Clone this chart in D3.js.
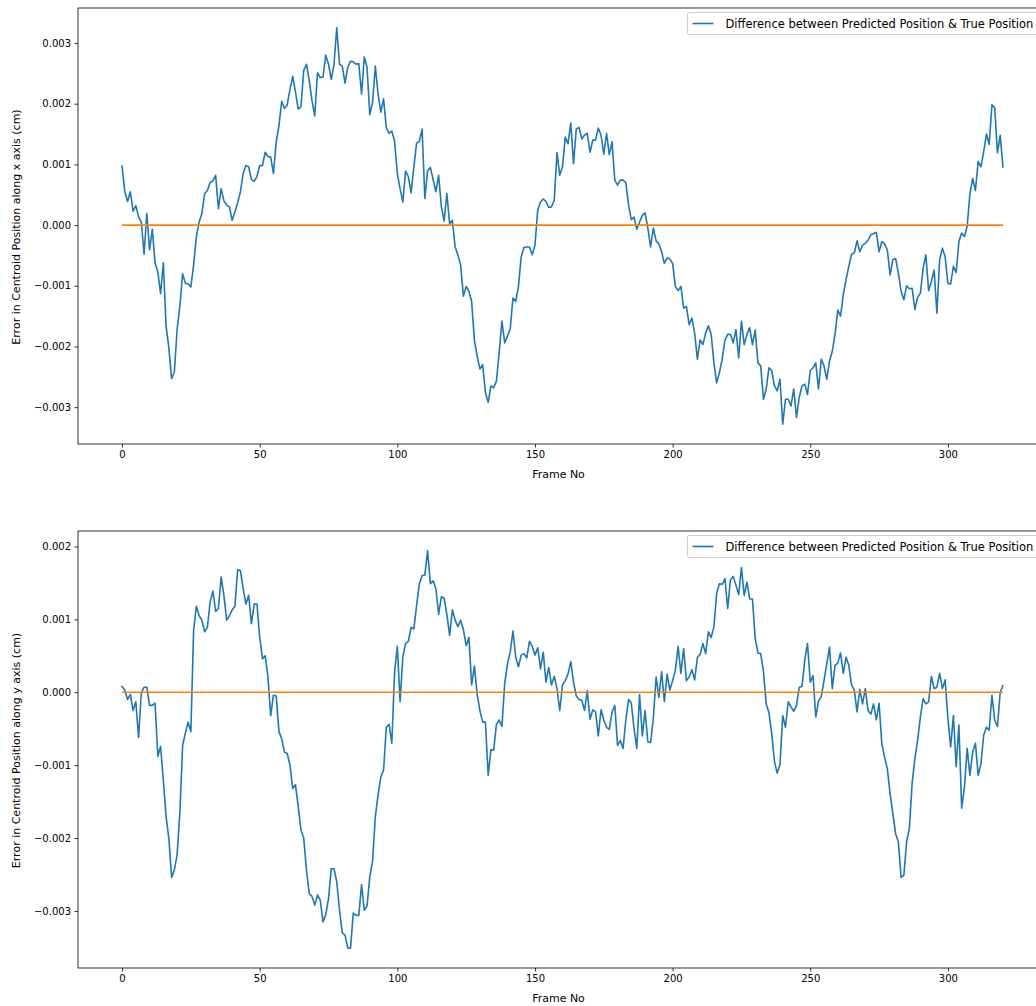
<!DOCTYPE html>
<html>
<head>
<meta charset="utf-8">
<script src="https://cdn.jsdelivr.net/npm/d3@7"></script>
<style>
  html, body { margin: 0; padding: 0; background: #fff; }
  svg { display: block; font-family: "DejaVu Sans", sans-serif; }
</style>
</head>
<body>
<svg id="chart" width="1036" height="1006"></svg>
<script>
// Per-frame centroid error (units of 1e-3 cm), frames 0..320
const errorX = [
  0.97, 0.55, 0.39, 0.55, 0.23, 0.32, 0.14, 0.05, -0.48, 0.19,
  -0.41, -0.07, -0.63, -0.77, -1.13, -0.62, -1.67, -2.02, -2.53, -2.42,
  -1.72, -1.34, -0.80, -0.96, -0.97, -1.02, -0.66, -0.19, 0.05, 0.19,
  0.52, 0.57, 0.70, 0.73, 0.82, 0.27, 0.60, 0.40, 0.33, 0.30,
  0.08, 0.22, 0.37, 0.55, 0.85, 0.98, 0.96, 0.75, 0.72, 0.80,
  0.98, 0.98, 1.20, 1.13, 1.12, 0.85, 1.37, 1.64, 2.04, 1.92,
  1.98, 2.24, 2.45, 2.19, 1.91, 1.95, 2.55, 2.65, 2.38, 2.05,
  1.80, 2.51, 2.43, 2.44, 2.80, 2.65, 2.40, 2.65, 3.25, 2.65,
  2.62, 2.34, 2.60, 2.70, 2.69, 2.65, 2.66, 2.16, 2.77, 2.60,
  1.82, 2.02, 2.62, 2.16, 1.86, 2.08, 1.60, 1.51, 1.55, 1.38,
  0.85, 0.60, 0.38, 0.89, 0.80, 0.53, 0.96, 1.35, 1.38, 1.58,
  0.44, 0.90, 0.95, 0.75, 0.55, 0.82, 0.30, 0.07, 0.52, 0.02,
  0.08, -0.36, -0.49, -0.66, -1.17, -1.01, -1.09, -1.26, -1.90, -2.16,
  -2.37, -2.30, -2.76, -2.92, -2.65, -2.68, -2.57, -2.10, -1.58, -1.94,
  -1.83, -1.71, -1.20, -1.26, -1.01, -0.52, -0.37, -0.36, -0.36, -0.49,
  -0.33, 0.25, 0.38, 0.43, 0.39, 0.29, 0.30, 0.41, 1.19, 0.82,
  0.96, 1.45, 1.34, 1.68, 1.01, 1.58, 1.61, 1.42, 1.48, 1.51,
  1.20, 1.40, 1.40, 1.60, 1.48, 1.17, 1.51, 1.16, 1.37, 0.74,
  0.66, 0.74, 0.74, 0.70, 0.33, 0.09, 0.13, -0.07, 0.05, 0.16,
  0.20, -0.05, -0.36, -0.05, -0.26, -0.31, -0.44, -0.63, -0.54, -0.56,
  -0.63, -1.01, -1.08, -1.01, -1.37, -1.34, -1.64, -1.53, -1.78, -2.21,
  -1.89, -1.97, -1.78, -1.66, -1.80, -2.27, -2.60, -2.43, -2.21, -1.90,
  -1.80, -1.80, -1.94, -1.72, -2.19, -1.58, -1.97, -1.80, -1.69, -1.97,
  -1.73, -2.27, -2.32, -2.87, -2.70, -2.35, -2.40, -2.65, -2.73, -2.54,
  -3.28, -2.87, -2.87, -2.98, -2.70, -3.17, -2.84, -2.65, -2.62, -2.79,
  -2.40, -2.35, -2.27, -2.70, -2.21, -2.32, -2.54, -2.24, -2.08, -1.80,
  -1.40, -1.50, -1.15, -0.90, -0.68, -0.48, -0.46, -0.26, -0.44, -0.33,
  -0.30, -0.25, -0.16, -0.14, -0.12, -0.44, -0.27, -0.31, -0.41, -0.82,
  -0.57, -0.55, -0.79, -1.09, -1.23, -1.00, -1.05, -1.04, -1.39, -1.19,
  -1.12, -0.71, -0.49, -1.08, -0.93, -0.74, -1.45, -0.57, -0.38, -0.52,
  -0.96, -0.97, -0.68, -0.78, -0.27, -0.13, -0.19, -0.02, 0.52, 0.77,
  0.57, 1.05, 0.96, 1.21, 1.50, 1.33, 1.98, 1.93, 1.19, 1.48,
  0.96
];

const errorY = [
  0.08, 0.03, -0.10, -0.03, -0.25, -0.13, -0.62, -0.01, 0.07, 0.07,
  -0.18, -0.18, -0.15, -0.88, -0.74, -1.21, -1.71, -2.00, -2.54, -2.44,
  -2.23, -1.66, -0.73, -0.56, -0.41, -0.54, 0.85, 1.18, 1.05, 0.99,
  0.83, 0.89, 1.24, 1.39, 1.11, 1.15, 1.58, 1.33, 0.99, 1.05,
  1.13, 1.18, 1.68, 1.67, 1.42, 1.21, 1.33, 0.94, 1.21, 1.21,
  0.76, 0.46, 0.50, 0.21, -0.32, -0.04, -0.05, -0.54, -0.64, -0.82,
  -0.84, -1.00, -1.32, -1.27, -1.57, -1.89, -2.00, -2.44, -2.76, -2.80,
  -2.92, -2.78, -2.85, -3.15, -3.05, -2.83, -2.42, -2.42, -2.60, -2.99,
  -3.30, -3.33, -3.51, -3.51, -3.03, -3.06, -3.06, -2.64, -2.99, -2.93,
  -2.53, -2.32, -1.71, -1.41, -1.16, -1.07, -0.48, -0.44, -0.70, 0.28,
  0.63, -0.13, 0.49, 0.67, 0.70, 0.89, 0.87, 1.19, 1.49, 1.60,
  1.61, 1.94, 1.49, 1.53, 1.42, 1.07, 1.31, 1.29, 1.07, 0.78,
  1.13, 0.99, 0.90, 0.99, 0.86, 0.64, 0.75, 0.10, 0.36, -0.03,
  -0.25, -0.41, -0.41, -1.14, -0.79, -0.79, -0.44, -0.38, -0.47, 0.12,
  0.39, 0.55, 0.84, 0.48, 0.35, 0.51, 0.53, 0.47, 0.70, 0.63,
  0.51, 0.61, 0.32, 0.55, 0.14, 0.34, 0.10, 0.22, 0.05, -0.25,
  0.10, 0.16, 0.25, 0.42, 0.14, -0.05, -0.10, -0.11, -0.25, 0.02,
  -0.37, -0.24, -0.27, -0.60, -0.24, -0.38, -0.48, -0.51, -0.27, -0.18,
  -0.73, -0.66, -0.77, -0.38, -0.10, -0.15, -0.50, -0.77, -0.03, -0.60,
  -0.25, -0.68, -0.69, -0.36, 0.21, -0.07, 0.28, -0.13, 0.25, 0.03,
  0.16, 0.30, 0.63, 0.26, 0.60, 0.16, 0.21, 0.31, 0.17, 0.48,
  0.52, 0.67, 0.53, 0.83, 0.75, 0.90, 1.36, 1.49, 1.48, 1.56,
  1.15, 1.54, 1.59, 1.47, 1.34, 1.71, 1.33, 1.51, 1.28, 1.28,
  0.74, 0.54, 0.53, 0.28, -0.16, -0.28, -0.57, -0.95, -1.11, -0.99,
  -0.32, -0.48, -0.13, -0.20, -0.26, -0.18, 0.07, 0.08, 0.44, 0.67,
  0.14, 0.23, -0.34, -0.12, -0.06, 0.16, 0.39, 0.62, 0.05, 0.37,
  0.40, 0.54, 0.26, 0.48, 0.37, 0.10, 0.03, -0.27, 0.04, -0.16,
  0.05, -0.25, -0.30, -0.16, -0.38, -0.15, -0.71, -0.89, -1.05, -1.39,
  -1.66, -1.94, -2.05, -2.54, -2.51, -2.05, -1.87, -1.25, -0.91, -0.66,
  -0.34, -0.09, -0.16, -0.13, 0.22, 0.05, 0.07, 0.26, 0.05, 0.17,
  -0.36, -0.75, -0.32, -1.02, -0.45, -1.59, -1.30, -0.77, -1.14, -0.82,
  -0.70, -1.14, -0.98, -0.59, -0.48, -0.52, -0.04, -0.38, -0.47, 0.00,
  0.09
];

const xTicks = [0, 50, 100, 150, 200, 250, 300];
const yTicksTop = [-0.003, -0.002, -0.001, 0.000, 0.001, 0.002, 0.003];
const yTicksBottom = [-0.003, -0.002, -0.001, 0.000, 0.001, 0.002];
const legendLabel = "Difference between Predicted Position & True Position";
const xLabel = "Frame No";
const yLabels = [
  "Error in Centroid Position along x axis (cm)",
  "Error in Centroid Position along y axis (cm)"
];
const baselineValue = 0;

const svg = d3.select("#chart");
const blue = "#1f77b4", orange = "#ff7f0e";
const fmt = v => d3.format(".3f")(v).replace("-", "\u2212");

const panels = [
  { values: errorX.map(v => v * 1e-3), ticks: yTicksTop, label: yLabels[0], top: 8, bottom: 444 },
  { values: errorY.map(v => v * 1e-3), ticks: yTicksBottom, label: yLabels[1], top: 531, bottom: 968 }
];

const left = 78, right = 1047;
const nFrames = errorX.length;
const xMax = nFrames - 1;
const xPad = xMax * 0.05;

const x = d3.scaleLinear().domain([-xPad, xMax + xPad]).range([left, right]);

panels.forEach(p => {
  const [lo, hi] = d3.extent(p.values);
  const pad = (hi - lo) * 0.05;
  const y = d3.scaleLinear().domain([lo - pad, hi + pad]).range([p.bottom, p.top]);
  const g = svg.append("g");

  const clipId = "clip" + p.top;
  svg.append("clipPath").attr("id", clipId)
    .append("rect").attr("x", left).attr("y", p.top).attr("width", right - left).attr("height", p.bottom - p.top);

  const plot = g.append("g").attr("clip-path", `url(#${clipId})`);

  // error trace
  plot.append("path")
    .datum(p.values)
    .attr("fill", "none")
    .attr("stroke", blue)
    .attr("stroke-width", 1.6)
    .attr("stroke-linejoin", "round")
    .attr("stroke-linecap", "square")
    .attr("d", d3.line().x((d, i) => x(i)).y(d => y(d)));

  // zero-error reference
  plot.append("line")
    .attr("x1", x(0)).attr("x2", x(xMax))
    .attr("y1", y(baselineValue)).attr("y2", y(baselineValue))
    .attr("stroke", orange).attr("stroke-width", 1.6);

  // axes
  const xAxis = g.append("g").attr("transform", `translate(0,${p.bottom})`)
    .call(d3.axisBottom(x).tickValues(xTicks).tickSize(3.5).tickPadding(3.5).tickFormat(d3.format("d")));
  const yAxis = g.append("g").attr("transform", `translate(${left},0)`)
    .call(d3.axisLeft(y).tickValues(p.ticks).tickSize(3.5).tickPadding(3.5).tickFormat(fmt));
  [xAxis, yAxis].forEach(a => {
    a.select(".domain").remove();
    a.selectAll(".tick line").attr("stroke", "#000").attr("stroke-width", 0.8);
    a.selectAll(".tick text").attr("fill", "#000").attr("font-size", 10)
      .attr("font-family", "DejaVu Sans, sans-serif");
  });

  // spines
  const sp = g.append("g").attr("stroke", "#000").attr("stroke-width", 0.8).attr("fill", "none");
  sp.append("rect").attr("x", left).attr("y", p.top).attr("width", right - left).attr("height", p.bottom - p.top);

  // axis titles
  g.append("text")
    .attr("x", (left + right) / 2 - 4).attr("y", p.bottom + 34)
    .attr("text-anchor", "middle").attr("font-size", 11).attr("fill", "#000")
    .text(xLabel);
  g.append("text")
    .attr("transform", `translate(20,${(p.top + p.bottom) / 2 + 1}) rotate(-90)`)
    .attr("text-anchor", "middle").attr("font-size", 11).attr("fill", "#000")
    .text(p.label);

  // legend
  const lg = g.append("g").attr("transform", `translate(687.5,${p.top + 4.5})`);
  lg.append("rect").attr("width", 360).attr("height", 22).attr("rx", 2)
    .attr("fill", "#fff").attr("fill-opacity", 0.8).attr("stroke", "#ccc").attr("stroke-width", 1);
  lg.append("line").attr("x1", 5).attr("x2", 26).attr("y1", 11).attr("y2", 11)
    .attr("stroke", blue).attr("stroke-width", 1.6);
  lg.append("text").attr("x", 38).attr("y", 11).attr("dy", "0.35em")
    .attr("font-size", 11.5).attr("fill", "#000").text(legendLabel);
});
</script>
</body>
</html>
